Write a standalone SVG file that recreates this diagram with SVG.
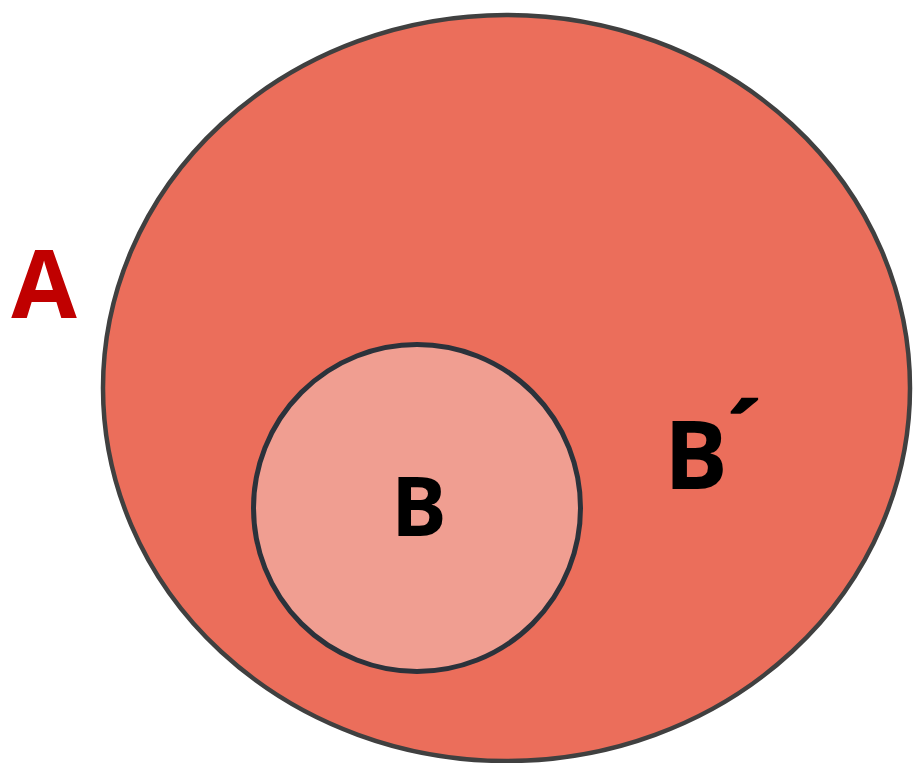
<svg xmlns="http://www.w3.org/2000/svg" width="913" height="763" viewBox="0 0 913 763">
  <style>
    .lbl { font-family: "Open Sans", "Liberation Sans", sans-serif; font-weight: 700; }
  </style>
  <rect width="913" height="763" fill="#ffffff"/>
  <g id="setA">
    <ellipse cx="506.5" cy="388" rx="403.5" ry="373" fill="#EB6E5B" stroke="#404040" stroke-width="4.5"/>
  </g>
  <g id="setB">
    <circle cx="417" cy="508" r="163.5" fill="#F09E91" stroke="#2B323B" stroke-width="5"/>
  </g>
  <g id="labels">
    <text class="lbl" x="44" y="318" font-size="95" fill="#C00000" text-anchor="middle">A</text>
    <text class="lbl" x="419" y="536" font-size="83" fill="#000000" text-anchor="middle">B</text>
    <text class="lbl" x="664" y="489" font-size="95" fill="#000000">B<tspan dx="0" dy="-20" font-size="92" stroke="#000000" stroke-width="1.5">´</tspan></text>
  </g>
</svg>
